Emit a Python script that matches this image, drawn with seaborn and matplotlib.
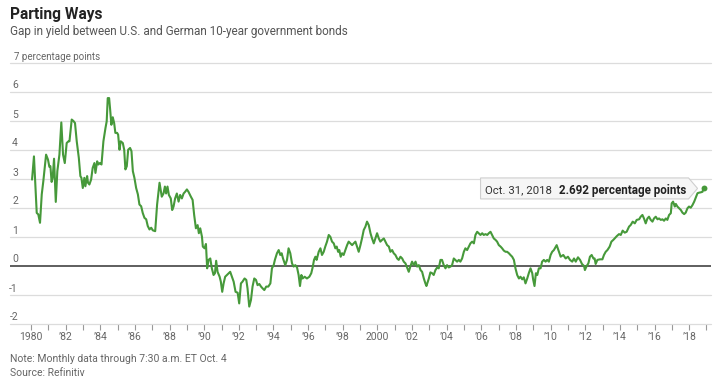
import matplotlib
matplotlib.use("Agg")
import matplotlib.pyplot as plt
import matplotlib.transforms as mtransforms
from matplotlib.patches import Polygon
import pandas as pd
import seaborn as sns

# ---------------- data ----------------
dates = [
    1980.06, 1980.17, 1980.33, 1980.42, 1980.52, 1980.62, 1980.71, 1980.87, 1980.98, 1981.06,
    1981.12, 1981.19, 1981.25, 1981.33, 1981.43, 1981.52, 1981.64, 1981.75, 1981.85, 1981.95,
    1982.06, 1982.16, 1982.22, 1982.35, 1982.45, 1982.54, 1982.64, 1982.76, 1982.85, 1982.91,
    1982.99, 1983.08, 1983.14, 1983.24, 1983.29, 1983.37, 1983.47, 1983.56, 1983.66, 1983.72,
    1983.82, 1983.89, 1983.97, 1984.07, 1984.18, 1984.30, 1984.37, 1984.43, 1984.51, 1984.57,
    1984.64, 1984.72, 1984.80, 1984.87, 1984.97, 1985.03, 1985.11, 1985.18, 1985.30, 1985.38,
    1985.45, 1985.53, 1985.61, 1985.72, 1985.80, 1985.88, 1985.97, 1986.07, 1986.17, 1986.26,
    1986.36, 1986.45, 1986.55, 1986.65, 1986.74, 1986.84, 1986.94, 1987.03, 1987.17, 1987.28,
    1987.42, 1987.55, 1987.65, 1987.73, 1987.80, 1987.88, 1987.96, 1988.07, 1988.15, 1988.23,
    1988.32, 1988.42, 1988.52, 1988.61, 1988.71, 1988.81, 1988.90, 1989.00, 1989.09, 1989.23,
    1989.33, 1989.42, 1989.52, 1989.62, 1989.69, 1989.77, 1989.87, 1989.92, 1990.02, 1990.10,
    1990.17, 1990.25, 1990.35, 1990.44, 1990.54, 1990.62, 1990.69, 1990.77, 1990.89, 1990.96,
    1991.04, 1991.12, 1991.21, 1991.31, 1991.41, 1991.50, 1991.60, 1991.70, 1991.81, 1991.93,
    1992.02, 1992.12, 1992.21, 1992.33, 1992.43, 1992.50, 1992.60, 1992.70, 1992.79, 1992.89,
    1992.99, 1993.08, 1993.18, 1993.28, 1993.37, 1993.47, 1993.58, 1993.70, 1993.82, 1993.91,
    1994.01, 1994.08, 1994.20, 1994.30, 1994.39, 1994.47, 1994.55, 1994.68, 1994.78, 1994.87,
    1994.97, 1995.07, 1995.16, 1995.26, 1995.36, 1995.45, 1995.53, 1995.61, 1995.68, 1995.80,
    1995.93, 1996.07, 1996.18, 1996.26, 1996.34, 1996.42, 1996.49, 1996.61, 1996.71, 1996.80,
    1996.90, 1996.99, 1997.09, 1997.19, 1997.28, 1997.38, 1997.48, 1997.57, 1997.65, 1997.73,
    1997.80, 1997.88, 1997.96, 1998.05, 1998.15, 1998.25, 1998.34, 1998.44, 1998.54, 1998.63,
    1998.73, 1998.82, 1998.92, 1999.02, 1999.11, 1999.21, 1999.31, 1999.40, 1999.50, 1999.60,
    1999.69, 1999.79, 1999.88, 1999.98, 2000.08, 2000.17, 2000.27, 2000.37, 2000.46, 2000.56,
    2000.66, 2000.75, 2000.85, 2000.94, 2001.04, 2001.14, 2001.23, 2001.33, 2001.43, 2001.52,
    2001.62, 2001.71, 2001.81, 2001.91, 2002.00, 2002.10, 2002.20, 2002.29, 2002.39, 2002.49,
    2002.58, 2002.68, 2002.77, 2002.83, 2002.97, 2003.06, 2003.16, 2003.25, 2003.35, 2003.45,
    2003.54, 2003.64, 2003.73, 2003.83, 2003.93, 2004.02, 2004.12, 2004.22, 2004.31, 2004.41,
    2004.50, 2004.60, 2004.70, 2004.79, 2004.89, 2004.99, 2005.08, 2005.18, 2005.28, 2005.37,
    2005.47, 2005.57, 2005.66, 2005.76, 2005.85, 2005.95, 2006.05, 2006.14, 2006.24, 2006.34,
    2006.43, 2006.53, 2006.62, 2006.72, 2006.82, 2006.91, 2007.01, 2007.11, 2007.20, 2007.30,
    2007.40, 2007.49, 2007.59, 2007.68, 2007.78, 2007.88, 2007.97, 2008.07, 2008.17, 2008.26,
    2008.36, 2008.45, 2008.55, 2008.65, 2008.74, 2008.84, 2008.94, 2008.99, 2009.07, 2009.15,
    2009.23, 2009.32, 2009.42, 2009.51, 2009.61, 2009.71, 2009.80, 2009.90, 2010.00, 2010.09,
    2010.19, 2010.35, 2010.48, 2010.58, 2010.73, 2010.87, 2011.00, 2011.12, 2011.25, 2011.35,
    2011.45, 2011.58, 2011.70, 2011.81, 2011.93, 2011.98, 2012.08, 2012.18, 2012.27, 2012.37,
    2012.47, 2012.54, 2012.60, 2012.70, 2012.85, 2012.99, 2013.08, 2013.18, 2013.28, 2013.41,
    2013.51, 2013.62, 2013.70, 2013.82, 2013.95, 2014.05, 2014.16, 2014.28, 2014.39, 2014.53,
    2014.62, 2014.74, 2014.86, 2014.97, 2015.11, 2015.20, 2015.30, 2015.39, 2015.49, 2015.59,
    2015.68, 2015.78, 2015.88, 2015.97, 2016.07, 2016.17, 2016.26, 2016.36, 2016.46, 2016.55,
    2016.65, 2016.74, 2016.84, 2016.94, 2016.99, 2017.07, 2017.17, 2017.23, 2017.32, 2017.42,
    2017.52, 2017.61, 2017.71, 2017.80, 2017.90, 2017.99, 2018.09, 2018.19, 2018.29, 2018.38,
    2018.48, 2018.58, 2018.67, 2018.77, 2018.83,
]
spread = [
    2.98, 3.78, 1.83, 1.78, 1.49, 2.47, 2.92, 3.84, 3.67, 3.42,
    3.44, 2.90, 3.04, 3.70, 2.21, 3.27, 3.84, 4.95, 3.84, 3.55,
    4.24, 4.30, 4.30, 5.05, 5.00, 4.93, 4.30, 3.73, 3.10, 3.04,
    2.69, 3.04, 2.75, 3.10, 2.87, 2.81, 2.98, 3.38, 3.55, 3.21,
    3.61, 3.50, 3.55, 3.50, 4.30, 4.76, 4.99, 5.79, 5.79, 5.39,
    4.87, 5.13, 4.93, 4.59, 4.59, 4.53, 4.01, 4.30, 4.24, 4.01,
    3.33, 3.44, 4.01, 4.07, 3.96, 3.27, 3.04, 2.69, 2.47, 2.12,
    2.06, 1.83, 1.66, 1.61, 1.38, 1.26, 1.32, 1.23, 1.20, 2.12,
    2.87, 2.39, 2.50, 2.74, 2.50, 2.74, 2.45, 2.33, 1.93, 2.05,
    2.33, 2.50, 2.22, 2.45, 2.33, 2.50, 2.56, 2.64, 2.56, 2.39,
    2.28, 1.76, 1.30, 1.41, 1.13, 1.30, 1.01, 0.67, 0.61, 0.76,
    -0.08, 0.21, 0.26, -0.08, -0.31, -0.25, 0.18, -0.20, -0.37, -0.54,
    -0.89, -0.60, -0.37, -0.31, -0.25, -0.20, -0.37, -0.54, -0.89, -0.92,
    -1.29, -0.60, -0.54, -0.43, -0.48, -0.77, -1.40, -1.17, -0.71, -0.43,
    -0.48, -0.66, -0.62, -0.71, -0.77, -0.83, -0.71, -0.71, -0.60, -0.08,
    0.03, 0.21, 0.44, 0.55, 0.38, 0.44, 0.26, 0.03, 0.21, 0.61,
    0.44, 0.09, -0.02, 0.03, -0.05, -0.31, -0.69, -0.31, -0.43, -0.37,
    -0.43, -0.37, -0.25, -0.05, 0.21, 0.32, 0.21, 0.49, 0.61, 0.38,
    0.49, 0.67, 0.84, 1.07, 1.01, 0.84, 0.78, 0.61, 0.67, 0.49,
    0.55, 0.32, 0.44, 0.38, 0.55, 0.72, 0.84, 0.78, 0.72, 0.78,
    0.84, 0.67, 0.49, 0.72, 0.95, 1.24, 1.36, 1.53, 1.41, 1.13,
    0.95, 0.78, 0.95, 1.13, 0.95, 0.84, 0.90, 0.95, 0.84, 0.72,
    0.67, 0.49, 0.55, 0.44, 0.38, 0.26, 0.21, 0.32, 0.26, 0.15,
    0.09, -0.05, -0.20, 0.00, 0.15, 0.03, 0.15, -0.02, 0.03, -0.14,
    -0.20, -0.43, -0.60, -0.69, -0.43, -0.22, -0.25, -0.31, -0.14, -0.05,
    -0.08, 0.21, 0.21, 0.03, -0.08, 0.03, -0.05, -0.02, 0.03, 0.26,
    0.21, 0.15, 0.21, 0.15, 0.26, 0.49, 0.61, 0.55, 0.67, 0.78,
    0.84, 0.78, 1.07, 1.18, 1.13, 1.07, 1.13, 1.07, 1.10, 1.07,
    1.13, 1.18, 1.07, 0.95, 0.90, 0.84, 0.72, 0.67, 0.61, 0.53,
    0.49, 0.49, 0.44, 0.38, 0.32, 0.21, -0.08, -0.31, -0.43, -0.37,
    -0.46, -0.39, -0.60, -0.43, -0.25, -0.08, -0.25, -0.46, -0.69, -0.25,
    -0.31, -0.08, -0.08, 0.15, 0.21, 0.15, 0.21, 0.15, 0.38, 0.49,
    0.55, 0.72, 0.49, 0.32, 0.38, 0.26, 0.32, 0.21, 0.15, 0.26,
    0.15, 0.30, 0.21, 0.07, 0.00, -0.14, 0.00, 0.09, 0.32, 0.38,
    0.26, 0.26, 0.07, 0.21, 0.23, 0.23, 0.38, 0.49, 0.55, 0.67,
    0.84, 0.90, 0.95, 1.03, 1.10, 1.07, 1.22, 1.15, 1.18, 1.36,
    1.41, 1.53, 1.47, 1.59, 1.61, 1.70, 1.76, 1.64, 1.47, 1.64,
    1.70, 1.59, 1.53, 1.64, 1.70, 1.61, 1.64, 1.59, 1.61, 1.56,
    1.64, 1.59, 1.76, 1.82, 2.16, 2.22, 2.05, 2.14, 2.05, 1.99,
    1.93, 1.84, 1.79, 1.84, 1.99, 2.05, 2.01, 2.10, 2.22, 2.36,
    2.51, 2.53, 2.54, 2.56, 2.692,
]
last_label_date = "Oct. 31, 2018"
last_label_value = "2.692 percentage points"

y_ticks = [-2, -1, 0, 1, 2, 3, 4, 5, 6, 7]
y_tick_labels = ["-2", "-1", "0", "1", "2", "3", "4", "5", "6", "7 percentage points"]
x_tick_years = list(range(1980, 2020))
x_label_years = list(range(1980, 2019, 2))
x_label_text = ["1980" if y == 1980 else "2000" if y == 2000 else "\u2019%02d" % (y % 100)
                for y in x_label_years]

title = "Parting Ways"
subtitle = "Gap in yield between U.S. and German 10-year government bonds"
note = "Note: Monthly data through 7:30 a.m. ET Oct. 4"
source = "Source: Refinitiv"

# ---------------- style ----------------
GREEN = "#46993a"
GRID = "#dcdcdc"
TXT = "#666666"

sns.set_theme(style="white")
plt.rcParams["font.family"] = ["Roboto", "DejaVu Sans"]

W, H = 720, 389
fig = plt.figure(figsize=(W / 100, H / 100), dpi=100)
ax = fig.add_axes([10 / W, 65 / H, 701 / W, 261 / H])

df = pd.DataFrame({"date": dates, "spread": spread})
sns.lineplot(data=df, x="date", y="spread", ax=ax, color=GREEN, linewidth=1.5,
             estimator=None, zorder=3)
sns.scatterplot(data=df.tail(1), x="date", y="spread", ax=ax, color=GREEN, s=18,
                edgecolor=GREEN, linewidth=0, zorder=4)

ax.set_xlim(1978.787, 2019.26)
ax.set_ylim(-2, 7)
for s in ax.spines.values():
    s.set_visible(False)

for v in y_ticks:
    if v == 0:
        ax.axhline(v, color="#333333", lw=1.1, zorder=2)
    else:
        ax.axhline(v, color=GRID, lw=0.9, zorder=1, clip_on=False)

ax.set_yticks([])
ax.set_xticks(x_tick_years)
ax.set_xticklabels([x_label_text[x_label_years.index(y)] if y in x_label_years else ""
                    for y in x_tick_years])
ax.tick_params(axis="x", length=4.3, width=0.8, color="#999999", pad=1.2,
               labelsize=7.5, labelcolor=TXT, direction="out", bottom=True)
ax.set_xlabel("")
ax.set_ylabel("")

# y labels sitting above gridlines
ytrans = mtransforms.blended_transform_factory(ax.transAxes, ax.transData)
for v, lab in zip(y_ticks, y_tick_labels):
    if lab.startswith("7 "):
        tr = mtransforms.offset_copy(ytrans, fig=fig, x=4, y=2.5, units="dots")
        ax.text(0, v, lab, transform=tr, ha="left", va="baseline", fontsize=7,
                color=TXT)
    else:
        tr = mtransforms.offset_copy(ytrans, fig=fig, x=8, y=3.5, units="dots")
        ax.text(0, v, lab, transform=tr, ha="right", va="baseline", fontsize=7.5,
                color=TXT)

# callout box at the last point
fig.canvas.draw()
px, py = ax.transData.transform((dates[-1], spread[-1]))
box = [(-223, 10), (-15, 10), (-6, -0.5), (-15, -11), (-223, -11)]
poly = Polygon([(px + dx, py + dy) for dx, dy in box], closed=True,
               transform=mtransforms.IdentityTransform(), facecolor="#f6f6f6",
               edgecolor="#cfcfcf", lw=0.8, zorder=5, clip_on=False)
ax.add_patch(poly)
ax.annotate(last_label_date, xy=(dates[-1], spread[-1]),
            xytext=(-219 * 0.72, -2.5 * 0.72), textcoords="offset points",
            ha="left", va="center", fontsize=8.2, color="#333333", zorder=6)
ax.annotate(last_label_value, xy=(dates[-1], spread[-1]),
            xytext=(-17 * 0.72, -2.5 * 0.72), textcoords="offset points",
            ha="right", va="center", fontsize=8.4, color="#222222",
            weight="bold", zorder=6)

# titles and notes
fig.text(10 / W, 1 - 14 / H, title, ha="left", va="center", fontsize=11.2,
         weight="bold", color="#222222")
fig.text(10 / W, 1 - 32 / H, subtitle, ha="left", va="center", fontsize=8.5,
         color="#555555")
fig.text(10 / W, 1 - 359 / H, note, ha="left", va="center", fontsize=7.5, color=TXT)
fig.text(10 / W, 1 - 373 / H, source, ha="left", va="center", fontsize=7.5, color=TXT)

fig.savefig("out.png", dpi=100)
